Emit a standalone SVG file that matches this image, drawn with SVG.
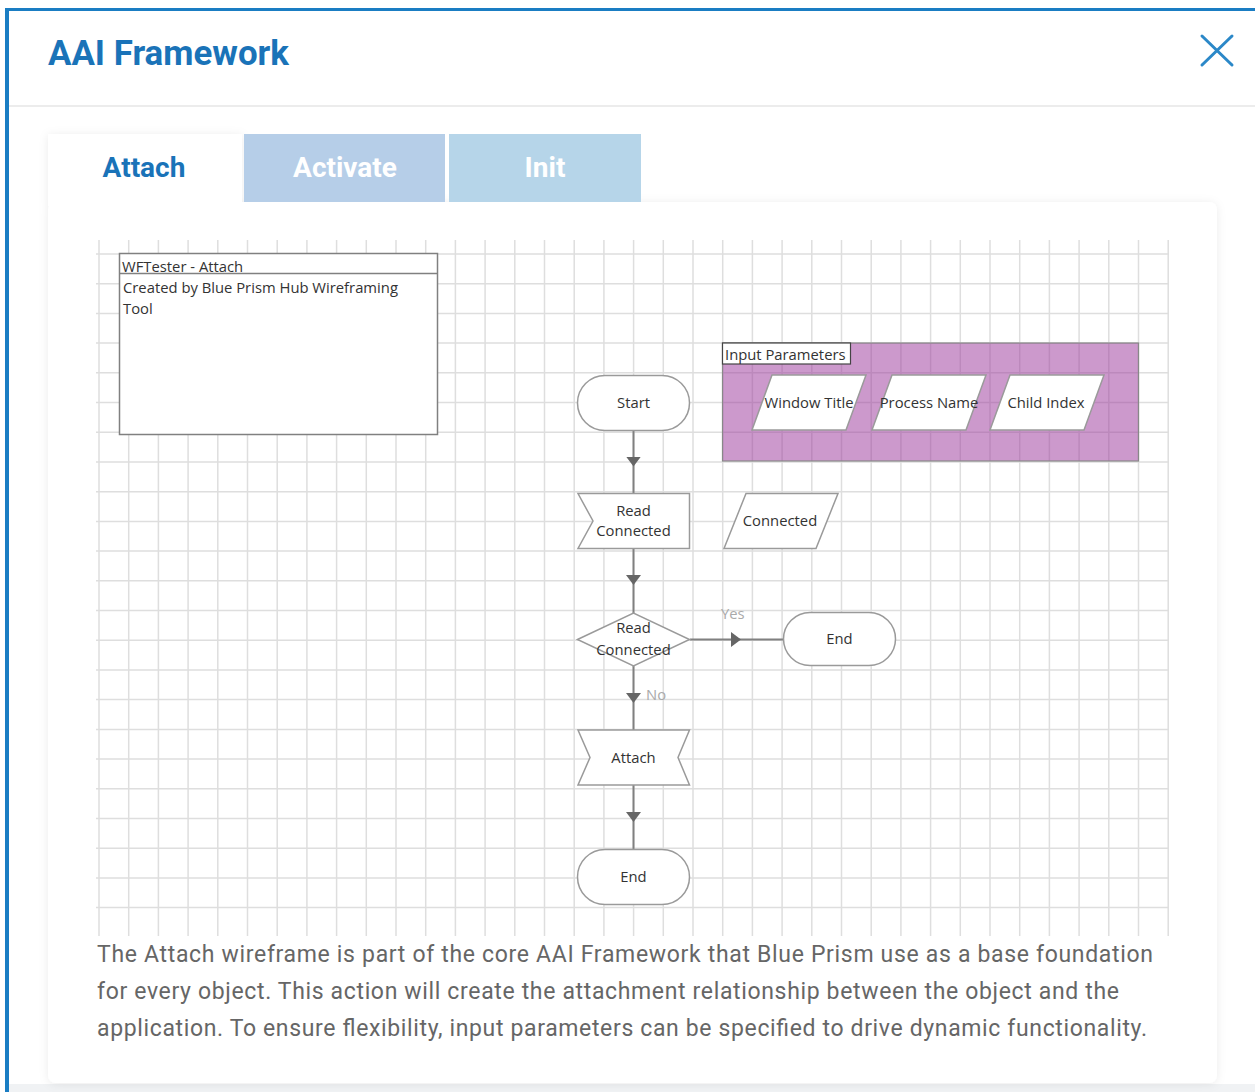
<svg xmlns="http://www.w3.org/2000/svg" width="1255" height="1092" viewBox="0 0 1255 1092">
<defs>
<style>
.grid line{stroke:#dedede;stroke-width:1.5}
.node{fill:#fff;stroke:#9a9a9a;stroke-width:1.5}
.nt{font-family:"Open Sans","DejaVu Sans",sans-serif;font-size:14.8px;fill:#333;text-anchor:middle}
.lt{font-family:"Open Sans","DejaVu Sans",sans-serif;font-size:14.8px;fill:#333}
.conn{fill:none;stroke:#808080;stroke-width:2;marker-mid:url(#ah)}
.cl{font-family:"Open Sans","DejaVu Sans",sans-serif;font-size:14.8px;fill:#aaa}
.tab{font-family:Roboto,"Liberation Sans",sans-serif;font-size:28px;font-weight:700;text-anchor:middle}
.para{font-family:Roboto,"Liberation Sans",sans-serif;font-size:23px;fill:#666}
</style>
<marker id="ah" viewBox="0 0 10 10" refX="5" refY="5" markerUnits="userSpaceOnUse" markerWidth="10" markerHeight="15" preserveAspectRatio="none" orient="auto">
<path d="M0,0 L10,5 L0,10 z" fill="#666"/>
</marker>
<filter id="sh" x="-5%" y="-5%" width="110%" height="110%">
<feDropShadow dx="0" dy="1" stdDeviation="5" flood-color="#000" flood-opacity="0.08"/>
</filter>
</defs>
<rect x="0" y="0" width="1255" height="1092" fill="#fff"/>
<rect x="9" y="1084" width="1246" height="8" fill="#f0f2f4"/>
<g id="frame">
<rect x="5" y="8" width="1250" height="3" fill="#1a7dc3"/>
<rect x="5" y="8" width="4" height="1084" fill="#1a7dc3"/>
<line x1="9" y1="106" x2="1255" y2="106" stroke="#ececec" stroke-width="2"/>
<text x="48" y="65" font-family="Roboto,'Liberation Sans',sans-serif" font-size="35" font-weight="700" fill="#1a73b8" textLength="241" lengthAdjust="spacingAndGlyphs">AAI Framework</text>
<g id="close" stroke="#2b88c8" stroke-width="3" stroke-linecap="round">
<line x1="1202" y1="36" x2="1232" y2="65"/>
<line x1="1232" y1="36" x2="1202" y2="65"/>
</g>
</g>
<g id="card" filter="url(#sh)">
<rect x="48" y="202" width="1169" height="881" rx="8" fill="#fff"/>
<rect x="48" y="134" width="194" height="72" fill="#fff"/>
</g>
<g id="tabs">
<rect x="244" y="134" width="201" height="68" fill="#b6cee8"/>
<rect x="449" y="134" width="192" height="68" fill="#b6d5e9"/>
<text class="tab" x="144" y="177" fill="#1a73b8">Attach</text>
<text class="tab" x="345" y="177" fill="#fff">Activate</text>
<text class="tab" x="545" y="177" fill="#fff">Init</text>
</g>
<g class="grid" id="grid">
<line x1="99" y1="240" x2="99" y2="936"/>
<line x1="128.7" y1="240" x2="128.7" y2="936"/>
<line x1="158.4" y1="240" x2="158.4" y2="936"/>
<line x1="188.1" y1="240" x2="188.1" y2="936"/>
<line x1="217.8" y1="240" x2="217.8" y2="936"/>
<line x1="247.5" y1="240" x2="247.5" y2="936"/>
<line x1="277.2" y1="240" x2="277.2" y2="936"/>
<line x1="306.9" y1="240" x2="306.9" y2="936"/>
<line x1="336.6" y1="240" x2="336.6" y2="936"/>
<line x1="366.3" y1="240" x2="366.3" y2="936"/>
<line x1="396" y1="240" x2="396" y2="936"/>
<line x1="425.7" y1="240" x2="425.7" y2="936"/>
<line x1="455.4" y1="240" x2="455.4" y2="936"/>
<line x1="485.1" y1="240" x2="485.1" y2="936"/>
<line x1="514.8" y1="240" x2="514.8" y2="936"/>
<line x1="544.5" y1="240" x2="544.5" y2="936"/>
<line x1="574.2" y1="240" x2="574.2" y2="936"/>
<line x1="603.9" y1="240" x2="603.9" y2="936"/>
<line x1="633.6" y1="240" x2="633.6" y2="936"/>
<line x1="663.3" y1="240" x2="663.3" y2="936"/>
<line x1="693" y1="240" x2="693" y2="936"/>
<line x1="722.7" y1="240" x2="722.7" y2="936"/>
<line x1="752.4" y1="240" x2="752.4" y2="936"/>
<line x1="782.1" y1="240" x2="782.1" y2="936"/>
<line x1="811.8" y1="240" x2="811.8" y2="936"/>
<line x1="841.5" y1="240" x2="841.5" y2="936"/>
<line x1="871.2" y1="240" x2="871.2" y2="936"/>
<line x1="900.9" y1="240" x2="900.9" y2="936"/>
<line x1="930.6" y1="240" x2="930.6" y2="936"/>
<line x1="960.3" y1="240" x2="960.3" y2="936"/>
<line x1="990" y1="240" x2="990" y2="936"/>
<line x1="1019.7" y1="240" x2="1019.7" y2="936"/>
<line x1="1049.4" y1="240" x2="1049.4" y2="936"/>
<line x1="1079.1" y1="240" x2="1079.1" y2="936"/>
<line x1="1108.8" y1="240" x2="1108.8" y2="936"/>
<line x1="1138.5" y1="240" x2="1138.5" y2="936"/>
<line x1="1168.2" y1="240" x2="1168.2" y2="936"/>
<line x1="96" y1="254" x2="1169" y2="254"/>
<line x1="96" y1="283.7" x2="1169" y2="283.7"/>
<line x1="96" y1="313.4" x2="1169" y2="313.4"/>
<line x1="96" y1="343.1" x2="1169" y2="343.1"/>
<line x1="96" y1="372.8" x2="1169" y2="372.8"/>
<line x1="96" y1="402.5" x2="1169" y2="402.5"/>
<line x1="96" y1="432.3" x2="1169" y2="432.3"/>
<line x1="96" y1="462" x2="1169" y2="462"/>
<line x1="96" y1="491.7" x2="1169" y2="491.7"/>
<line x1="96" y1="521.4" x2="1169" y2="521.4"/>
<line x1="96" y1="551.1" x2="1169" y2="551.1"/>
<line x1="96" y1="580.8" x2="1169" y2="580.8"/>
<line x1="96" y1="610.5" x2="1169" y2="610.5"/>
<line x1="96" y1="640.2" x2="1169" y2="640.2"/>
<line x1="96" y1="669.9" x2="1169" y2="669.9"/>
<line x1="96" y1="699.6" x2="1169" y2="699.6"/>
<line x1="96" y1="729.4" x2="1169" y2="729.4"/>
<line x1="96" y1="759.1" x2="1169" y2="759.1"/>
<line x1="96" y1="788.8" x2="1169" y2="788.8"/>
<line x1="96" y1="818.5" x2="1169" y2="818.5"/>
<line x1="96" y1="848.2" x2="1169" y2="848.2"/>
<line x1="96" y1="877.9" x2="1169" y2="877.9"/>
<line x1="96" y1="907.6" x2="1169" y2="907.6"/>
</g>
<g id="note">
<rect x="119.5" y="253.5" width="318" height="181" fill="#fff" stroke="#808080" stroke-width="1.5"/>
<line x1="119.5" y1="273.5" x2="437.5" y2="273.5" stroke="#808080" stroke-width="1.5"/>
<text class="lt" x="122" y="271.5">WFTester - Attach</text>
<text class="lt" x="123" y="293">Created by Blue Prism Hub Wireframing</text>
<text class="lt" x="123" y="314">Tool</text>
</g>
<g id="input-parameters">
<rect x="722.5" y="343" width="416" height="118" fill="#993399" fill-opacity="0.5" stroke="#888" stroke-width="1.2"/>
<rect x="722.5" y="343" width="128" height="21" fill="#fff" stroke="#444" stroke-width="1.2"/>
<text class="lt" x="725" y="359.5">Input Parameters</text>
</g>
<g id="window-title">
<polygon class="node" points="772,375 866,375 846,430 752,430"/>
<text class="nt" x="809" y="408">Window Title</text>
</g>
<g id="process-name">
<polygon class="node" points="892,375 986,375 966,430 872,430"/>
<text class="nt" x="929" y="408">Process Name</text>
</g>
<g id="child-index">
<polygon class="node" points="1010,375 1104,375 1084,430 990,430"/>
<text class="nt" x="1046" y="408">Child Index</text>
</g>
<g id="connectors">
<path class="conn" d="M633.5,430 L633.5,461.5 L633.5,493"/>
<path class="conn" d="M633.5,548 L633.5,580 L633.5,613"/>
<path class="conn" d="M690,639.5 L736,639.5 L783,639.5"/>
<path class="conn" d="M633.5,666 L633.5,698 L633.5,730"/>
<path class="conn" d="M633.5,785 L633.5,817 L633.5,849"/>
<text class="cl" x="721" y="619">Yes</text>
<text class="cl" x="646" y="700">No</text>
</g>
<g id="start">
<rect class="node" x="577.5" y="375.5" width="112" height="55" rx="27.5"/>
<text class="nt" x="633.5" y="408">Start</text>
</g>
<g id="read-connected">
<polygon class="node" points="578,493.5 689.5,493.5 689.5,548.5 578,548.5 593,521"/>
<text class="nt" x="633.5" y="516">Read</text>
<text class="nt" x="633.5" y="536">Connected</text>
</g>
<g id="connected">
<polygon class="node" points="746,493.5 838,493.5 816,548.5 724,548.5"/>
<text class="nt" x="780" y="526">Connected</text>
</g>
<g id="decision">
<polygon class="node" points="577.5,639.5 633.5,613 689.5,639.5 633.5,666"/>
<text class="nt" x="633.5" y="633">Read</text>
<text class="nt" x="633.5" y="655">Connected</text>
</g>
<g id="end-yes">
<rect class="node" x="783.5" y="612.5" width="112" height="53" rx="26.5"/>
<text class="nt" x="839.5" y="644">End</text>
</g>
<g id="attach">
<polygon class="node" points="578,730 689.5,730 678,757.5 689.5,785 578,785 590,757.5"/>
<text class="nt" x="633.5" y="763">Attach</text>
</g>
<g id="end">
<rect class="node" x="577.5" y="849.5" width="112" height="55" rx="27.5"/>
<text class="nt" x="633.5" y="882">End</text>
</g>
<g id="description">
<text class="para" x="97" y="962" textLength="1056" lengthAdjust="spacing">The Attach wireframe is part of the core AAI Framework that Blue Prism use as a base foundation</text>
<text class="para" x="97" y="999" textLength="1022" lengthAdjust="spacing">for every object. This action will create the attachment relationship between the object and the</text>
<text class="para" x="97" y="1036" textLength="1050" lengthAdjust="spacing">application. To ensure flexibility, input parameters can be specified to drive dynamic functionality.</text>
</g>
</svg>
